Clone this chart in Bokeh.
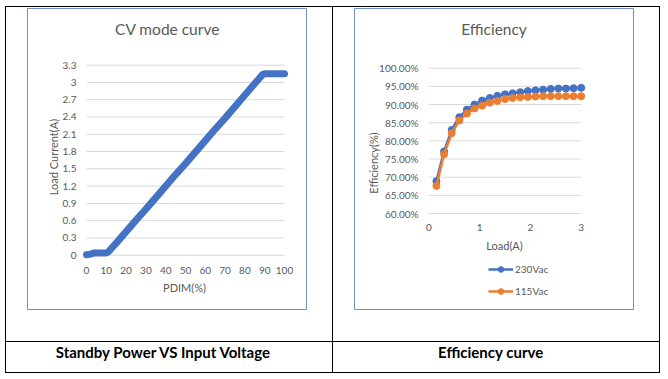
import math
from bokeh.plotting import figure
from bokeh.models import Range1d, FixedTicker, Legend, LegendItem, Label, Div, Spacer
from bokeh.layouts import row, column
from bokeh.embed import file_html
from bokeh.resources import INLINE

# ---------------- data ----------------
cv_pdim = [0, 2, 4, 6, 8, 10, 11, 15, 20, 25, 30, 35, 40, 45, 50, 55, 60, 65, 70, 75, 80, 85, 89, 90, 95, 100]
cv_current = [0.01, 0.02, 0.04, 0.04, 0.04, 0.04, 0.06, 0.21, 0.41, 0.61, 0.80, 1.00, 1.20, 1.40, 1.59,
              1.79, 1.99, 2.19, 2.38, 2.58, 2.78, 2.98, 3.14, 3.15, 3.15, 3.15]
cv_x_ticks = [0, 10, 20, 30, 40, 50, 60, 70, 80, 90, 100]
cv_y_ticks = [0, 0.3, 0.6, 0.9, 1.2, 1.5, 1.8, 2.1, 2.4, 2.7, 3, 3.3]
cv_y_tick_labels = ["0", "0.3", "0.6", "0.9", "1.2", "1.5", "1.8", "2.1", "2.4", "2.7", "3", "3.3"]

eff_load = [0.15, 0.30, 0.45, 0.60, 0.75, 0.90, 1.05, 1.20, 1.35, 1.50,
            1.65, 1.80, 1.95, 2.10, 2.25, 2.40, 2.55, 2.70, 2.85, 3.00]
eff_230 = [68.9, 77.1, 83.0, 86.5, 88.6, 90.0, 91.1, 91.8, 92.4, 92.8,
           93.1, 93.4, 93.7, 93.9, 94.1, 94.3, 94.4, 94.4, 94.5, 94.6]
eff_115 = [67.6, 76.3, 82.1, 85.6, 87.5, 88.9, 89.7, 90.5, 91.0, 91.5,
           91.8, 92.0, 92.1, 92.2, 92.3, 92.3, 92.3, 92.3, 92.3, 92.3]
eff_x_ticks = [0, 1, 2, 3]
eff_y_ticks = [60, 65, 70, 75, 80, 85, 90, 95, 100]
eff_y_tick_labels = ["60.00%", "65.00%", "70.00%", "75.00%", "80.00%", "85.00%", "90.00%", "95.00%", "100.00%"]
series_names = ["230Vac", "115Vac"]

titles = ["CV mode curve", "Efficiency"]
x_titles = ["PDIM(%)", "Load(A)"]
y_titles = ["Load Current(A)", "Efficiency(%)"]
captions = ["Standby Power VS Input Voltage", "Efficiency curve"]

# ---------------- style / geometry (page pixels) ----------------
FONT = "Lato"
GREY = "#595959"
GRID = "#D9D9D9"
BLUE = "#4472C4"
ORANGE = "#ED7D31"
FRAME = "#7391C9"
T = 1                       # table rule thickness
LEFT_PAD, TOP_PAD = 5, 6    # white space before the table
WL, WR = 326, 326           # table cell widths
CELL_H, CAP_H = 334, 30     # table row heights
CELL_X = [LEFT_PAD + T, LEFT_PAD + 2 * T + WL]
CELL_Y = TOP_PAD + T
CAP_Y = CELL_Y + CELL_H + T
TOTAL_W = 3 * T + WL + WR


def lin(d0, d1, p0, p1):
    """return pixel->data converter from two anchors"""
    return lambda q: d0 + (q - p0) * (d1 - d0) / (p1 - p0)


def chart(cell_x0, cell_w, frame_box, xa, ya):
    fx0, fx1, fy0, fy1 = frame_box
    px2x = lin(*xa)
    py2y = lin(*ya)
    p = figure(width=cell_w, height=CELL_H, output_backend="svg", toolbar_location=None,
               x_range=Range1d(px2x(fx0), px2x(fx1)), y_range=Range1d(py2y(fy1), py2y(fy0)),
               min_border_left=fx0 - cell_x0, min_border_right=cell_w - (fx1 - cell_x0),
               min_border_top=fy0 - CELL_Y, min_border_bottom=CELL_H - (fy1 - CELL_Y),
               background_fill_color=None, border_fill_color=None,
               outline_line_color=FRAME, outline_line_width=1)
    p.xgrid.visible = False
    p.ygrid.visible = False
    for ax in (p.xaxis, p.yaxis):
        ax.axis_line_color = None
        ax.major_tick_line_color = None
        ax.minor_tick_line_color = None
        ax.major_tick_out = 0
        ax.major_tick_in = 0
        ax.minor_tick_out = 0
        ax.major_label_text_font = FONT
        ax.major_label_text_font_size = "10px"
        ax.major_label_text_color = GREY
    return p, px2x, py2y


def add_label(p, px2x, py2y, px, py, text, size, angle=0.0):
    p.add_layout(Label(x=px2x(px), y=py2y(py), text=text, angle=angle, text_font=FONT,
                       text_font_size=size, text_color=GREY, text_align="center",
                       text_baseline="middle"))


# ---------------- CV mode curve ----------------
cv, cvx, cvy = chart(CELL_X[0], WL, (27, 306, 8, 312), (0, 100, 86, 284), (0, 3.3, 257.2, 65.2))
cv.xaxis.ticker = FixedTicker(ticks=cv_x_ticks)
cv.yaxis.ticker = FixedTicker(ticks=cv_y_ticks)
cv.yaxis.major_label_overrides = dict(zip(cv_y_ticks, cv_y_tick_labels))
cv.yaxis.major_label_standoff = 27 - 76
cv.xaxis.major_label_standoff = 269 - 312
cv.segment(x0=cv_x_ticks[0], x1=cv_x_ticks[-1], y0=cv_y_ticks, y1=cv_y_ticks,
           line_color=GRID, line_width=1)
cv.line(cv_pdim, cv_current, line_color=BLUE, line_width=7, line_cap="round", line_join="round")
add_label(cv, cvx, cvy, 167, 29, titles[0], "15.5px")
add_label(cv, cvx, cvy, 184, 290, x_titles[0], "11px")
add_label(cv, cvx, cvy, 52.5, 158, y_titles[0], "11px", math.pi / 2)

# ---------------- Efficiency ----------------
ef, efx, efy = chart(CELL_X[1], WR, (354, 633, 8, 309), (0, 3, 428.3, 580.7), (60, 100, 213, 67.7))
ef.xaxis.ticker = FixedTicker(ticks=eff_x_ticks)
ef.yaxis.ticker = FixedTicker(ticks=eff_y_ticks)
ef.yaxis.major_label_overrides = dict(zip(eff_y_ticks, eff_y_tick_labels))
ef.yaxis.major_label_standoff = 354 - 418
ef.xaxis.major_label_standoff = 223 - 309
ef.segment(x0=eff_x_ticks[0], x1=eff_x_ticks[-1], y0=eff_y_ticks, y1=eff_y_ticks,
           line_color=GRID, line_width=1)
items = []
for vals, col, name in ((eff_230, BLUE, series_names[0]), (eff_115, ORANGE, series_names[1])):
    rl = ef.line(eff_load, vals, line_color=col, line_width=2.5)
    rs = ef.scatter(eff_load, vals, size=7, fill_color=col, line_color=col)
    items.append(LegendItem(label=name, renderers=[rl, rs]))
legend = Legend(items=items, location=(488 - 354, 309 - 298), orientation="vertical",
                glyph_width=25, glyph_height=14, label_height=14, spacing=8, padding=0, margin=0,
                label_standoff=2, label_text_font=FONT, label_text_font_size="10px",
                label_text_color=GREY, border_line_color=None, background_fill_alpha=0)
ef.add_layout(legend)
add_label(ef, efx, efy, 493.5, 28, titles[1], "15.5px")
add_label(ef, efx, efy, 504, 245, x_titles[1], "11px")
add_label(ef, efx, efy, 373.3, 162.5, y_titles[1], "11px", math.pi / 2)


# ---------------- caption row ----------------
def caption(x0, w, cx, text):
    p = figure(width=w, height=CAP_H, output_backend="svg", toolbar_location=None,
               x_range=Range1d(x0, x0 + w), y_range=Range1d(CAP_Y + CAP_H, CAP_Y), min_border=0,
               x_axis_location=None, y_axis_location=None,
               background_fill_color=None, border_fill_color=None, outline_line_color=None)
    p.grid.visible = False
    p.add_layout(Label(x=cx, y=351.7, text=text, text_font=FONT, text_font_size="15px",
                       text_font_style="bold", text_color="black", text_align="center",
                       text_baseline="middle"))
    return p


capL = caption(CELL_X[0], WL, 163.3, captions[0])
capR = caption(CELL_X[1], WR, 490.3, captions[1])


# ---------------- table rules ----------------
def hl(w):
    return Div(text="", width=w, height=T, margin=0, styles={"background-color": "black"})


def vl(h):
    return Div(text="", width=T, height=h, margin=0, styles={"background-color": "black"})


table = column(hl(TOTAL_W),
               row(vl(CELL_H), cv, vl(CELL_H), ef, vl(CELL_H)),
               hl(TOTAL_W),
               row(vl(CAP_H), capL, vl(CAP_H), capR, vl(CAP_H)),
               hl(TOTAL_W))
root = column(Spacer(width=1, height=TOP_PAD), row(Spacer(width=LEFT_PAD, height=1), table))

open("out.html", "w").write(file_html(root, INLINE))
